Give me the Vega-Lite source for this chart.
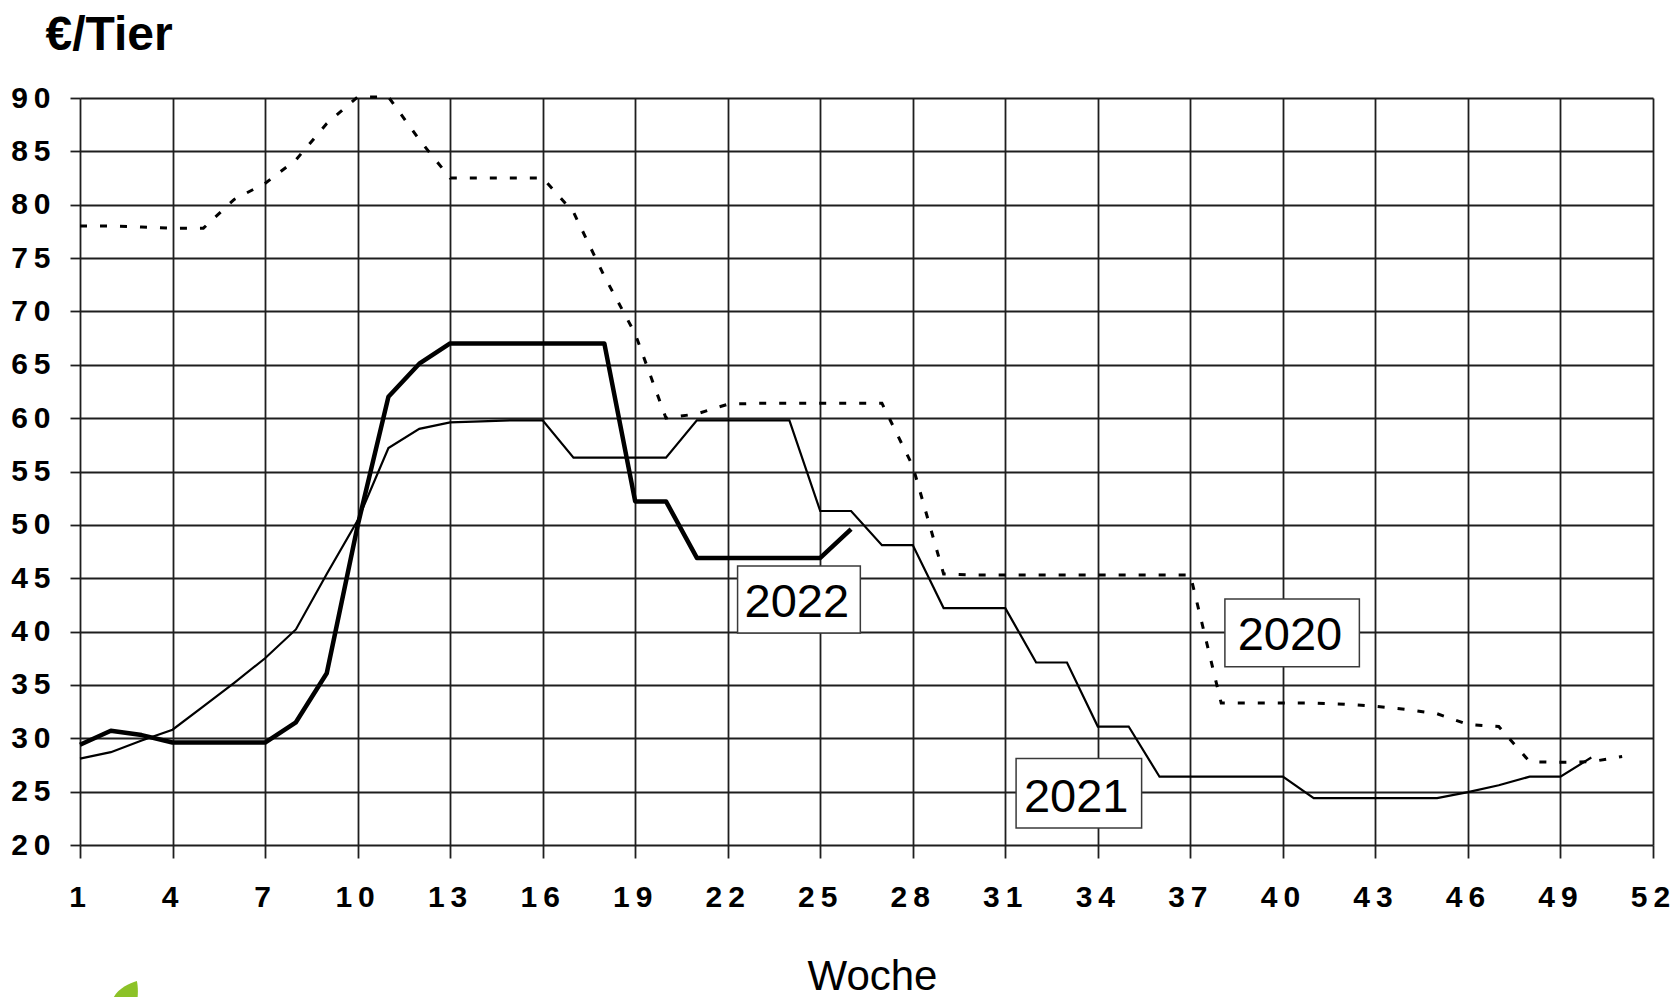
{
  "$schema": "https://vega.github.io/schema/vega-lite/v6.json",
  "width": 1573,
  "height": 747,
  "autosize": {"type": "none"},
  "padding": {"left": 80, "top": 98, "right": 18, "bottom": 152},
  "background": "white",
  "config": {"view": {"stroke": null}},
  "datasets": {
    "prices": [
      {"year": 2020, "week": 1, "price": 78.0}, {"year": 2020, "week": 2, "price": 78.0}, {"year": 2020, "week": 3, "price": 77.9}, {"year": 2020, "week": 4, "price": 77.8}, {"year": 2020, "week": 5, "price": 77.8},
      {"year": 2020, "week": 6, "price": 80.5}, {"year": 2020, "week": 7, "price": 82.0}, {"year": 2020, "week": 8, "price": 84.2}, {"year": 2020, "week": 9, "price": 87.6}, {"year": 2020, "week": 10, "price": 90.1},
      {"year": 2020, "week": 11, "price": 90.1}, {"year": 2020, "week": 12, "price": 86.1}, {"year": 2020, "week": 13, "price": 82.5}, {"year": 2020, "week": 14, "price": 82.5}, {"year": 2020, "week": 15, "price": 82.5},
      {"year": 2020, "week": 16, "price": 82.5}, {"year": 2020, "week": 17, "price": 79.3}, {"year": 2020, "week": 18, "price": 73.3}, {"year": 2020, "week": 19, "price": 67.9}, {"year": 2020, "week": 20, "price": 60.0},
      {"year": 2020, "week": 21, "price": 60.4}, {"year": 2020, "week": 22, "price": 61.3}, {"year": 2020, "week": 23, "price": 61.4}, {"year": 2020, "week": 24, "price": 61.4}, {"year": 2020, "week": 25, "price": 61.4},
      {"year": 2020, "week": 26, "price": 61.4}, {"year": 2020, "week": 27, "price": 61.4}, {"year": 2020, "week": 28, "price": 55.5}, {"year": 2020, "week": 29, "price": 45.4}, {"year": 2020, "week": 30, "price": 45.3},
      {"year": 2020, "week": 31, "price": 45.3}, {"year": 2020, "week": 32, "price": 45.3}, {"year": 2020, "week": 33, "price": 45.3}, {"year": 2020, "week": 34, "price": 45.3}, {"year": 2020, "week": 35, "price": 45.3},
      {"year": 2020, "week": 36, "price": 45.3}, {"year": 2020, "week": 37, "price": 45.3}, {"year": 2020, "week": 38, "price": 33.3}, {"year": 2020, "week": 39, "price": 33.3}, {"year": 2020, "week": 40, "price": 33.3},
      {"year": 2020, "week": 41, "price": 33.3}, {"year": 2020, "week": 42, "price": 33.2}, {"year": 2020, "week": 43, "price": 33.0}, {"year": 2020, "week": 44, "price": 32.7}, {"year": 2020, "week": 45, "price": 32.3},
      {"year": 2020, "week": 46, "price": 31.3}, {"year": 2020, "week": 47, "price": 31.1}, {"year": 2020, "week": 48, "price": 27.8}, {"year": 2020, "week": 49, "price": 27.75}, {"year": 2020, "week": 50, "price": 27.8},
      {"year": 2020, "week": 51, "price": 28.3},
      {"year": 2021, "week": 1, "price": 28.1}, {"year": 2021, "week": 2, "price": 28.7}, {"year": 2021, "week": 3, "price": 29.8}, {"year": 2021, "week": 4, "price": 30.8}, {"year": 2021, "week": 5, "price": 33.0},
      {"year": 2021, "week": 6, "price": 35.2}, {"year": 2021, "week": 7, "price": 37.5}, {"year": 2021, "week": 8, "price": 40.2}, {"year": 2021, "week": 9, "price": 45.4}, {"year": 2021, "week": 10, "price": 50.4},
      {"year": 2021, "week": 11, "price": 57.2}, {"year": 2021, "week": 12, "price": 59.0}, {"year": 2021, "week": 13, "price": 59.6}, {"year": 2021, "week": 14, "price": 59.7}, {"year": 2021, "week": 15, "price": 59.8},
      {"year": 2021, "week": 16, "price": 59.8}, {"year": 2021, "week": 17, "price": 56.3}, {"year": 2021, "week": 18, "price": 56.3}, {"year": 2021, "week": 19, "price": 56.3}, {"year": 2021, "week": 20, "price": 56.3},
      {"year": 2021, "week": 21, "price": 59.8}, {"year": 2021, "week": 22, "price": 59.8}, {"year": 2021, "week": 23, "price": 59.8}, {"year": 2021, "week": 24, "price": 59.8}, {"year": 2021, "week": 25, "price": 51.3},
      {"year": 2021, "week": 26, "price": 51.3}, {"year": 2021, "week": 27, "price": 48.1}, {"year": 2021, "week": 28, "price": 48.1}, {"year": 2021, "week": 29, "price": 42.2}, {"year": 2021, "week": 30, "price": 42.2},
      {"year": 2021, "week": 31, "price": 42.2}, {"year": 2021, "week": 32, "price": 37.1}, {"year": 2021, "week": 33, "price": 37.1}, {"year": 2021, "week": 34, "price": 31.1}, {"year": 2021, "week": 35, "price": 31.1},
      {"year": 2021, "week": 36, "price": 26.4}, {"year": 2021, "week": 37, "price": 26.4}, {"year": 2021, "week": 38, "price": 26.4}, {"year": 2021, "week": 39, "price": 26.4}, {"year": 2021, "week": 40, "price": 26.4},
      {"year": 2021, "week": 41, "price": 24.4}, {"year": 2021, "week": 42, "price": 24.4}, {"year": 2021, "week": 43, "price": 24.4}, {"year": 2021, "week": 44, "price": 24.4}, {"year": 2021, "week": 45, "price": 24.4},
      {"year": 2021, "week": 46, "price": 24.95}, {"year": 2021, "week": 47, "price": 25.6}, {"year": 2021, "week": 48, "price": 26.4}, {"year": 2021, "week": 49, "price": 26.4}, {"year": 2021, "week": 50, "price": 28.2},
      {"year": 2022, "week": 1, "price": 29.4}, {"year": 2022, "week": 2, "price": 30.7}, {"year": 2022, "week": 3, "price": 30.3}, {"year": 2022, "week": 4, "price": 29.6}, {"year": 2022, "week": 5, "price": 29.6},
      {"year": 2022, "week": 6, "price": 29.6}, {"year": 2022, "week": 7, "price": 29.6}, {"year": 2022, "week": 8, "price": 31.5}, {"year": 2022, "week": 9, "price": 36.1}, {"year": 2022, "week": 10, "price": 49.9},
      {"year": 2022, "week": 11, "price": 62.0}, {"year": 2022, "week": 12, "price": 65.1}, {"year": 2022, "week": 13, "price": 67.0}, {"year": 2022, "week": 14, "price": 67.0}, {"year": 2022, "week": 15, "price": 67.0},
      {"year": 2022, "week": 16, "price": 67.0}, {"year": 2022, "week": 17, "price": 67.0}, {"year": 2022, "week": 18, "price": 67.0}, {"year": 2022, "week": 19, "price": 52.2}, {"year": 2022, "week": 20, "price": 52.2},
      {"year": 2022, "week": 21, "price": 46.9}, {"year": 2022, "week": 22, "price": 46.9}, {"year": 2022, "week": 23, "price": 46.9}, {"year": 2022, "week": 24, "price": 46.9}, {"year": 2022, "week": 25, "price": 46.9},
      {"year": 2022, "week": 26, "price": 49.6}
    ],
    "boxes": [
      {"label": "2022", "week": 22.32, "week2": 26.30, "price": 46.14, "price2": 39.86},
      {"label": "2020", "week": 38.12, "week2": 42.48, "price": 43.05, "price2": 36.71},
      {"label": "2021", "week": 31.35, "week2": 35.42, "price": 28.10, "price2": 21.59}
    ],
    "labels": [
      {"label": "2022", "week": 24.24, "price": 41.39},
      {"label": "2020", "week": 40.23, "price": 38.27},
      {"label": "2021", "week": 33.30, "price": 23.09}
    ],
    "logo": [
      {"week": 2.43, "price": 5.75}
    ]
  },
  "encoding": {
    "x": {
      "field": "week",
      "type": "quantitative",
      "scale": {"domain": [1, 52], "nice": false, "zero": false},
      "axis": {
        "title": "Woche",
        "titleFont": "Liberation Sans",
        "titleFontSize": 42,
        "titleFontWeight": "normal",
        "titleColor": "#000",
        "titleBaseline": "alphabetic",
        "titleAnchor": "start",
        "titleAlign": "center",
        "titleX": 792,
        "titleY": 144,
        "values": [1, 4, 7, 10, 13, 16, 19, 22, 25, 28, 31, 34, 37, 40, 43, 46, 49, 52],
        "grid": true,
        "gridColor": "#1e1e1e",
        "gridWidth": 1.8,
        "gridOpacity": 1,
        "domain": false,
        "ticks": true,
        "tickSize": 13,
        "tickColor": "#1e1e1e",
        "tickWidth": 1.8,
        "labelFont": "Liberation Sans",
        "labelFontSize": 30,
        "labelFontWeight": "bold",
        "labelColor": "#000",
        "labelPadding": 24,
        "labelOffset": -3,
        "labelFlush": false,
        "labelOverlap": false,
        "labelExpr": "datum.value >= 10 ? floor(datum.value / 10) + '\u2009' + (datum.value % 10) : datum.label"
      }
    },
    "y": {
      "field": "price",
      "type": "quantitative",
      "scale": {"domain": [20, 90], "nice": false, "zero": false},
      "axis": {
        "title": "€/Tier",
        "titleFont": "Liberation Sans",
        "titleFontSize": 48,
        "titleFontWeight": "bold",
        "titleColor": "#000",
        "titleAngle": 0,
        "titleAlign": "left",
        "titleBaseline": "alphabetic",
        "titleX": -35,
        "titleY": -49,
        "values": [20, 25, 30, 35, 40, 45, 50, 55, 60, 65, 70, 75, 80, 85, 90],
        "grid": true,
        "gridColor": "#1e1e1e",
        "gridWidth": 1.8,
        "gridOpacity": 1,
        "domain": false,
        "ticks": true,
        "tickSize": 10,
        "tickColor": "#1e1e1e",
        "tickWidth": 1.8,
        "labelFont": "Liberation Sans",
        "labelFontSize": 30,
        "labelFontWeight": "bold",
        "labelColor": "#000",
        "labelPadding": 20,
        "labelFlush": false,
        "labelOverlap": false,
        "labelExpr": "floor(datum.value / 10) + '\u2009' + (datum.value % 10)"
      }
    }
  },
  "layer": [
    {
      "data": {"name": "prices"},
      "transform": [{"filter": "datum.year === 2020"}],
      "mark": {"type": "line", "color": "#000", "strokeWidth": 3, "strokeDash": [7, 13], "interpolate": "linear"}
    },
    {
      "data": {"name": "prices"},
      "transform": [{"filter": "datum.year === 2021"}],
      "mark": {"type": "line", "color": "#000", "strokeWidth": 2.2, "interpolate": "linear"}
    },
    {
      "data": {"name": "prices"},
      "transform": [{"filter": "datum.year === 2022"}],
      "mark": {"type": "line", "color": "#000", "strokeWidth": 4.5, "interpolate": "linear", "strokeJoin": "round"}
    },
    {
      "data": {"name": "boxes"},
      "mark": {"type": "rect", "fill": "white", "stroke": "#3a3a3a", "strokeWidth": 1.5},
      "encoding": {
        "x2": {"field": "week2"},
        "y2": {"field": "price2"}
      }
    },
    {
      "data": {"name": "labels"},
      "mark": {"type": "text", "font": "Liberation Sans", "fontSize": 47, "color": "#000", "align": "center", "baseline": "alphabetic"},
      "encoding": {"text": {"field": "label"}}
    },
    {
      "data": {"name": "logo"},
      "mark": {"type": "point", "filled": true, "color": "#8cc228", "opacity": 1, "size": 1024, "clip": false,
        "shape": "M 0.8 -1 C 0.2 -0.8 -0.7 -0.4 -0.8 0.5 L -0.8 1 L 0.6 1 C 0.9 0.3 0.9 -0.5 0.8 -1 Z"}
    }
  ]
}
